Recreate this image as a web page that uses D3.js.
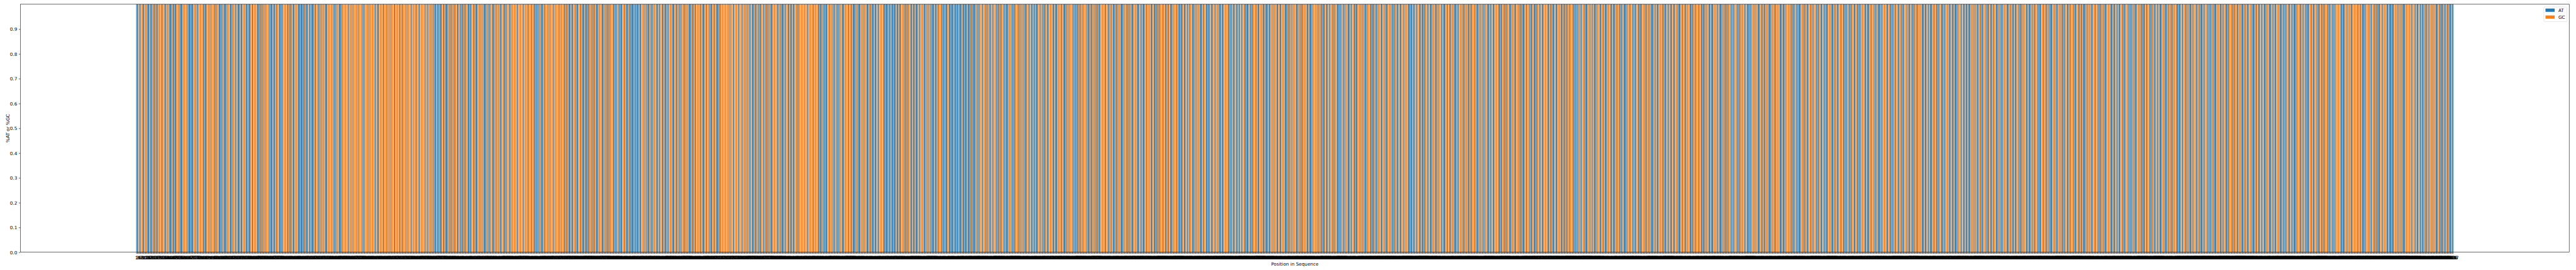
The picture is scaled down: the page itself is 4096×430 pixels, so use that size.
<!DOCTYPE html>
<html>
<head>
<meta charset="utf-8">
<script src="https://cdn.jsdelivr.net/npm/d3@7"></script>
<style>
  body { margin: 0; background: #fff; }
  svg { display: block; }
  text { font-family: "DejaVu Sans", sans-serif; fill: #000; }
</style>
</head>
<body>
<svg id="chart" width="4096" height="430"></svg>
<script>
// ---- DATA ----
// Base class per position: W = A/T (blue, "AT"), S = G/C (orange, "GC")
const seqLines = [
  "WWSSWSSSWW SSSWWWSWWS WSWWSWWSSS SWSSSWWSSS WWWWSWWWWS SSSWWWWSSS SSSWWWWWWW SSSWSWSSSS SSWWWWSSSS WSSSSSWWSS",
  "SWWWWSSWWW WSSSSWWWSS SWSSWWWSWW SSSSWWSWWW SSWSSSSSWW WWSWWSSWSS SSSWWWWSWW SWSSSWWWWS SSSSSWSWWS WSWWSSSSWW",
  "WWWWWWSWWW SSWSWWWWSW SSSWWSSWSS SWWWSSSSSS SWSWWSSSWW WWSSSSSSSS WSSSWSSSSS SWSSSSSWWS SSSSWSSSSS SSWSSWWSSS",
  "SSWSSSSWSS SWSSSSWSSS SSWSSWSSSS SWSSSSSWSS SSWSSSWSSS SSSSWSSWSS SWSSWWWSWW SWWWSSWSWW WWSSWWSSWS WSSWWSSWWW",
  "SWWSSSWWWW SSSWSWWWSS SWSSSWWWWS SWWSSSWWWS SWSSSWWSSS WWWSSSSWWS SSSSSSWSSS SSSSWSSSSW SSSSWSSWWW SWWSSWWWSW",
  "SSSSSWSSSS SWSSSSSSWS SSSSWWSWSW WWSWWSSSWW WSSSWSWWWS WWWWSWSSWW SWSWWWSSSS WWWSSWWSWW SSSSWWWSWS SWWWWSSSWS",
  "WWWSWWWWWW SWWWWSWWSS SSWSSWWWSW SWWSSSSWWS WSSSWWSWWW SWSSSSWWWS SWWSSWWSSS WSWSSSWWWW SWWSWSSSSS WSSWWWSSWS",
  "SSWWWSSWSS WWWWSWSSSS SSSSSSWSSS SWSSSSSWSS SSWSSSWSSW SWSSWWWSWW SSWWWSSSWS WSWWSSWWWS SSSSSWWSSW WWWSWSSSWW",
  "SWWSWWSSSW WSSSSSSSSS SSWSSSSSSW SSSSSWWWWS WSWWWWSSSW SSSWWSSWSW WSSSWWWSSS SSWSSWSWWW WSSWWWWSSS WSSSWWWSWS",
  "WWWSWWSSWS SSSSSWWWWW WSWWSWWWWW SWWSWWSSSS WWSWWSSSWW SWWSWWWSSW SSSSWWSWSS WSSWWWWSWW SWSSSSWWWS WWWSSWWWWW",
  "WSWWWWSWWW WSWWWWWSWW WWSWWWWWSS WWSSSSWSSS WWSSWWSSWS SSSWWWSWWS SSWSWWWWSS SWSWWWSSSS WWSSWSSWWW SSSWSSWWSW",
  "SWWWSSSWSS WWWSSWWSSS SSWWSWWWSS SSWSSWWWWS SWSSSSSWWS WWWSWWSSWS SSSSWWWSWW SWSSWWSWWW SSSSSSWSSS WWSSWSWWWS",
  "WWSSSWWWWS SSWSWWSSWW WSSSSWWWSS WSWWWSSWSS SSWWSSWWWW SWWSSSSWSS WWSWSSWWWS SSSSWSWWWW WSSWWSSWSW SSSWWWSSWS",
  "SSWWWSWSSS WWWWSSWWSS SWSSSWWWSW WSSSSSSWWW SWSWWSSWWS WSSWSSSWWW WWSSWWWSSS SWSWWSSSSW WSWWWWSWWS SSWSSSWWSS",
  "WWSSSSWWWW SWWSSWSSSS WWWSSWWSWS SSSWWSWWWW SSSSSSWSSW SWWWWSSWWS SWSSSWWSSS WWWWSWSSWW SSSWWWSWSS SWWWWSSSSW",
  "SSWSWWWSSS SWWWWSWSWW SSSSWWSSSW WWSSSSWSWW WSSWWSSWWS SSWSSSSWWW WWSWWSSWSS SWWSWWWWSS SWSSWWWSSS WWSWSSSSWS",
  "WWWSSWSSWW SSSWWWWSWS SSSWSWWSSS WWSWWSSSSW SWWWSSWSSW WSSSWWWSWS SWWSSSSSWW WWSSWSWWSS SWWWSSSWWS SSSWWSWWWW",
  "SSWSSSWWWS SWWWWSSSWS SWWSSSSSWW SWSWWWSSWW SSSSWWSWWS WWSSWSSSSW WWSWWSSWSW SSSWWWWSSS WSSWSWWWSS SSWWSSWSWW",
  "WSSSSWWSWW WSSWSSWWWS SWWWWSSSWS SSWSWWSSSW WWWSSSSWWS SWSSWWWWSS WSWWSSSSWS WWWSSWSSWW SSWWSSSWWW WSSWSSWWSS",
  "SSWWWWSSWS SSSWSSWWWW SWSSSWWSWW WSSSSWSSWW WWSSWWSWWS SSWSWWSSSS WWWSWSSSSW SSWWWWSWSS SWSSSWWWSS WWSWWSSSWW",
  "WWSSSWSWSS SSWWWSWWWS SSSSSWSWWW SSWSWWWWSS SWWSSWWSSS WSWSSSSWWW SSWWSSWSWW WSSSSWWWSW SSWWSSSWSS WWWSWSSWWW",
  "SSSWWSSWWW SWSSSSWWSW WWSSWSSSWW SSWWWWSWSS SSSWWSSWWW SWSWSSSWWS SWWWSSSSWS WWSSWWWSSW SWSSSSWWWS WWSSWSWWWS",
  "SWSSWWWSSS WWWSWSSSSW WSSWWSWWWW SSSSWSSWWS WWSWWWSSSW SSWSWWSSWW WSSSSWWWSS WWSWSSSWWW SSWWSWSSSS WWWSSWSWWS",
  "WWSSSWWWSW SSSSWWSWWW SSWSWSSSWW WWSSSWSSWW SSWWWWSSSW SWWSSSWSWW WSSSWWSWSS SSWWWSSSWW SWSWWWWSSW SSSWWSSSWS",
  "SSWWWSWSSW WWSSSSSWWW SWWSSWSWWS SSWWWSSSSW WSWWSSWWWS SSSWSWWWWS SWSSSWWWSS WWSSWSSWWW SSSWWWSWSS WSWWSSSSWW",
  "WWWSSWSSSW WSSWWWSWSS SSWWSSWWWW SWSSSSWWSW WSSWWWWSSS SWWSWSSSWW WWSSSSWWSW SSWWSSSWWW SWSSWWSSSS WWWWSWSSWW",
  "SSWSSWWWSS SWWWSSWSWW SSSSWWWSWS WWSSSWWSSW SWWWWSSSSW WSSWSSWWWW SSSWSWWSSS WWWSSWSWWS SSSWWWSSWS WWSSSSSSSW",
  "WWWWSSSWSS SWWSSSSSSS WSSWSWWWWS SSSSWSWSSS WWSWWWWSSS WSSSSWWSWW WWWWSSSSWS SWSSWWWWSS SSSSSWSSSS WSWWSSWSWW",
  "SWSWWSSWSS SWSSSWWWSS WWWWSWSWSW SWWWSWW"
];
const seqClass = seqLines.join("").replace(/\s/g, "").split("");
const positions = seqClass.map((d, i) => String(i + 1));   // tick labels 1..N
const barValue = 1.0;                                       // every bar reaches the top
const seriesNames = ["AT", "GC"];
const seriesKeys = ["W", "S"];
const seriesColors = ["#1f77b4", "#ff7f0e"];
const yTickValues = [0, 0.1, 0.2, 0.3, 0.4, 0.5, 0.6, 0.7, 0.8, 0.9];
const xLabel = "Position in Sequence";
const yLabel = "%AT or %GC";

// ---- LAYOUT (0.523 of reference) ----
const W = 4096, H = 430;
const plot = { left: 32.4, right: 4085.2, top: 6.8, bottom: 401.7 };
const fs = 7.26;
const tickLen = 2.56;
const lw = 0.58;

const svg = d3.select("#chart");
const N = positions.length;

const x = d3.scaleBand()
  .domain(positions)
  .range([plot.left, plot.right])
  .paddingInner(0.2)
  .paddingOuter(0.05 * (N - 0.2))
  .align(0.5);

const y = d3.scaleLinear().domain([0, 1]).range([plot.bottom, plot.top]);
const color = d3.scaleOrdinal().domain(seriesKeys).range(seriesColors);

// bars
svg.append("g")
  .selectAll("rect")
  .data(seqClass.map((c, i) => ({ pos: positions[i], cls: c, v: barValue })))
  .join("rect")
  .attr("x", d => x(d.pos))
  .attr("width", x.bandwidth())
  .attr("y", d => y(d.v))
  .attr("height", d => y(0) - y(d.v))
  .attr("fill", d => color(d.cls));

// x axis
const xAxis = svg.append("g")
  .attr("transform", `translate(0,${plot.bottom})`)
  .call(d3.axisBottom(x).tickSize(tickLen).tickPadding(3.2));
xAxis.select(".domain").remove();
xAxis.selectAll(".tick line").attr("stroke", "#000").attr("stroke-width", lw);
xAxis.selectAll(".tick text")
  .attr("font-family", "DejaVu Sans, sans-serif")
  .attr("font-size", fs)
  .attr("fill", "#000");

// y axis
const yAxis = svg.append("g")
  .attr("transform", `translate(${plot.left},0)`)
  .call(d3.axisLeft(y).tickValues(yTickValues).tickFormat(d3.format(".1f"))
    .tickSize(tickLen).tickPadding(2.56));
yAxis.select(".domain").remove();
yAxis.selectAll(".tick line").attr("stroke", "#000").attr("stroke-width", lw);
yAxis.selectAll(".tick text")
  .attr("font-family", "DejaVu Sans, sans-serif")
  .attr("font-size", fs)
  .attr("fill", "#000");

// spines
svg.append("rect")
  .attr("x", plot.left).attr("y", plot.top)
  .attr("width", plot.right - plot.left).attr("height", plot.bottom - plot.top)
  .attr("fill", "none").attr("stroke", "#000").attr("stroke-width", lw);

// axis labels
svg.append("text")
  .attr("x", (plot.left + plot.right) / 2)
  .attr("y", 422.6)
  .attr("text-anchor", "middle")
  .attr("font-size", fs)
  .text(xLabel);

svg.append("text")
  .attr("transform", `translate(12,${(plot.top + plot.bottom) / 2}) rotate(-90)`)
  .attr("text-anchor", "middle")
  .attr("dominant-baseline", "central")
  .attr("font-size", fs)
  .text(yLabel);

// legend
const lg = svg.append("g");
lg.append("rect")
  .attr("x", 4044.9).attr("y", 11).attr("width", 36.6).attr("height", 23.5)
  .attr("rx", 1.45).attr("ry", 1.45)
  .attr("fill", "#fff").attr("fill-opacity", 0.8)
  .attr("stroke", "#d6d6d6").attr("stroke-width", lw);
const legendRows = [13.6, 24.6];
seriesNames.forEach((name, i) => {
  lg.append("rect")
    .attr("x", 4047.5).attr("y", legendRows[i])
    .attr("width", 14.6).attr("height", 5.2)
    .attr("fill", seriesColors[i]);
  lg.append("text")
    .attr("x", 4067.9).attr("y", legendRows[i] + 2.6)
    .attr("dominant-baseline", "central")
    .attr("font-size", fs)
    .text(name);
});
</script>
</body>
</html>
